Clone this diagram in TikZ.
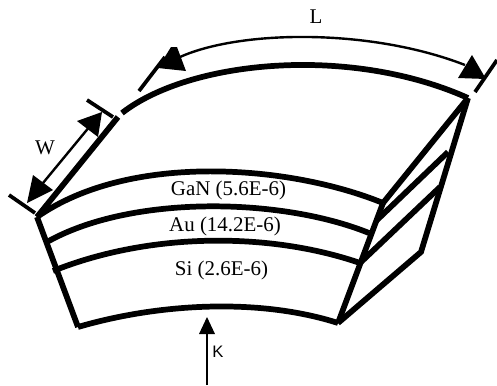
\documentclass[tikz,border=0pt]{standalone}
\usepackage{fontspec}
\setmainfont{Liberation Serif}
\newfontfamily\kfont{Liberation Sans}
\tikzset{
 body/.style={line width=4.3pt,line cap=butt,line join=miter},
 thin/.style={line width=1.8pt},
 tick/.style={line width=2.8pt},
 lab/.style={font=\fontsize{15.7}{16}\selectfont,inner sep=0pt},
 head/.style={fill=black,draw=none}
}
\begin{document}
\begin{tikzpicture}[x=0.75pt,y=-0.75pt]
\useasboundingbox (0,0) rectangle (497,386);
\coordinate (tl) at (122,113); \coordinate (tr) at (468,98);
\coordinate (fl) at (37,217); \coordinate (fr) at (383,203);
\coordinate (al) at (47,242); \coordinate (ar) at (369,233);
\coordinate (sl) at (53,271); \coordinate (sr) at (360,263);
\coordinate (bl) at (78,327); \coordinate (br) at (338,323);
\coordinate (kb) at (207,385); \coordinate (kt) at (207,330);
\draw[body] (tl) .. controls (190,60) and (350,45) .. (tr);
\draw[body] (118,117) -- (fl);
\draw[body] (fl) .. controls (130,152) and (290,165) .. (fr);
\draw[body] (al) .. controls (130,195) and (280,197) .. (ar);
\draw[body] (sl) .. controls (150,232) and (270,232) .. (sr);
\draw[body] (bl) .. controls (160,303) and (260,298) .. (br);
\draw[body] (fl) -- (bl);
\draw[body] (fr) -- (br);
\draw[body] (tr) -- (fr);
\draw[body] (tr) -- (421,252) -- (br);
\draw[body] (376,221) -- (448,152);
\draw[body] (sr) -- (440,187);
\draw[thin] (kb) -- (kt);
\fill[head] (207,317) -- (215,334) -- (199,334) -- cycle;
\node[lab,font=\kfont\fontsize{12.5}{13}\selectfont] (k) at (218,352) {K};
\node[lab] (gan) at (228.5,190) {GaN (5.6E-6)};
\node[lab] (au) at (225,226) {Au (14.2E-6)};
\node[lab] (si) at (221.5,270) {Si (2.6E-6)};
\node[lab] (w) at (45,148) {W};
\node[lab] (l) at (316,17) {L};
\draw[tick] (9,195) -- (35,213);
\draw[tick] (87,100) -- (113,117);
\draw[thin] (43,183) -- (95,120);
\fill[head] (27,203) -- (33,175) -- (53,190) -- cycle;
\fill[head] (102,112) -- (98,137) -- (77,121) -- cycle;
\draw[tick] (139,91) -- (165,57);
\draw[thin] (180,57) .. controls (240,30) and (370,28) .. (465,65);
\fill[head] (171,47) -- (177,47) -- (186,71) -- (158,68) -- cycle;
\draw[tick] (475,92) -- (497,60);
\fill[head] (486,79) -- (458,78) -- (472,55) -- cycle;
\end{tikzpicture}
\end{document}
